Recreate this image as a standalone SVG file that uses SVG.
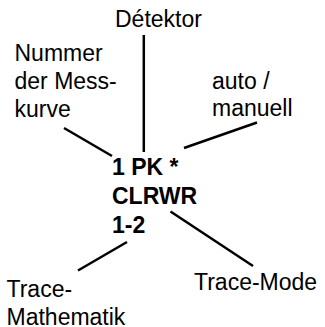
<svg xmlns="http://www.w3.org/2000/svg" width="325" height="327" viewBox="0 0 325 327">
<style>
.t{font-family:"Liberation Sans",Arial,sans-serif;font-size:23px;fill:#000}
.b{font-weight:bold}
.c{stroke:#000;stroke-width:2.5;fill:none}
</style>
<rect width="325" height="327" fill="#fff"/>
<g id="connectors">
<line class="c" x1="143.8" y1="35" x2="143.8" y2="152" stroke-width="3"/>
<line class="c" x1="64" y1="128" x2="112" y2="156"/>
<line class="c" x1="184" y1="148" x2="257" y2="122.5"/>
<line class="c" x1="170.5" y1="211.5" x2="253" y2="266"/>
<line class="c" x1="127" y1="242" x2="78" y2="270.5"/>
</g>
<g id="center"><text class="t b" x="112" y="175">1 PK *</text><text class="t b" x="112" y="204">CLRWR</text><text class="t b" x="112" y="233">1-2</text></g>
<g id="detektor"><text class="t" x="115" y="27">Détektor</text></g>
<g id="nummer"><text class="t" x="14.5" y="61">Nummer</text><text class="t" x="14.5" y="89">der Mess-</text><text class="t" x="14.5" y="117">kurve</text></g>
<g id="auto"><text class="t" x="212" y="89">auto /</text><text class="t" x="212" y="116">manuell</text></g>
<g id="mathematik"><text class="t" x="6.5" y="297">Trace-</text><text class="t" x="6.5" y="324.5">Mathematik</text></g>
<g id="mode"><text class="t" x="194" y="290">Trace-Mode</text></g>
</svg>
